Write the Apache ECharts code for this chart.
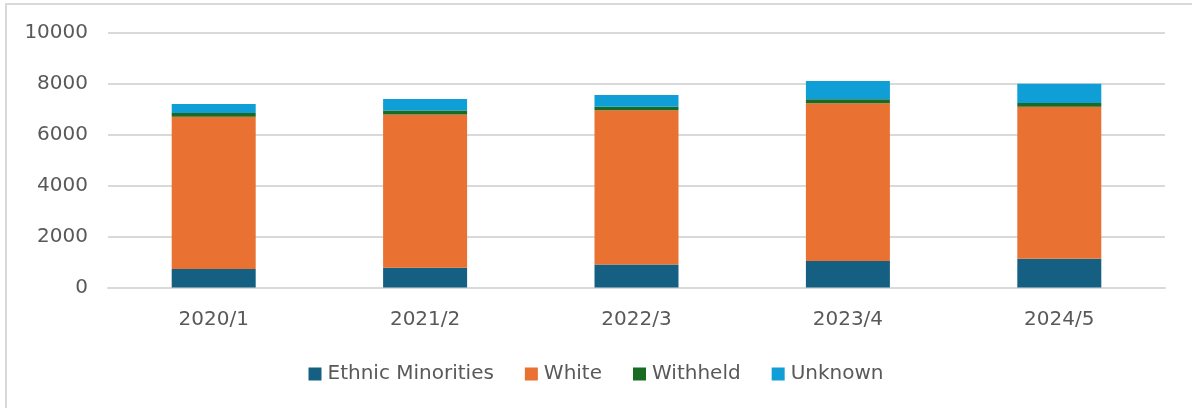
<!DOCTYPE html>
<html>
<head>
<meta charset="utf-8">
<script src="https://cdn.jsdelivr.net/npm/echarts@6/dist/echarts.min.js"></script>
<style>
  html,body{margin:0;padding:0;background:#fff;}
  #chart{width:1192px;height:408px;}
</style>
</head>
<body>
<div id="chart"></div>
<script>
  const years = ['2020/1','2021/2','2022/3','2023/4','2024/5'];
  const ethnicMinorities = [730, 780, 900, 1040, 1130];
  const white = [5980, 6020, 6060, 6200, 5970];
  const withheld = [145, 155, 145, 160, 145];
  const unknown = [355, 450, 460, 710, 760];

  const FONT = '"DejaVu Sans", sans-serif';
  const TXT = '#595959';
  const GRID = '#D9D9D9';

  const chart = echarts.init(document.getElementById('chart'));

  const mk = (name, data, color) => ({
    name, type:'bar', stack:'total', data,
    barWidth: 84,
    itemStyle:{color},
    emphasis:{disabled:true}
  });

  chart.setOption({
    animation:false,
    graphic:[{
      type:'rect', silent:true,
      shape:{x:6, y:4, width:1200, height:420},
      style:{fill:'none', stroke:GRID, lineWidth:2}
    }],
    grid:{left:108, right:27, top:33, bottom:120.5},
    legend:{
      top:359, left:'center',
      itemWidth:13, itemHeight:13, itemGap:31,
      icon:'rect',
      textStyle:{color:TXT, fontSize:20, fontFamily:FONT, padding:[0,0,0,1]},
      data:['Ethnic Minorities','White','Withheld','Unknown']
    },
    xAxis:{
      type:'category', data:years,
      axisTick:{show:false},
      axisLine:{lineStyle:{color:GRID, width:2}},
      axisLabel:{color:TXT, fontSize:20, fontFamily:FONT, margin:22}
    },
    yAxis:{
      type:'value', min:0, max:10000, interval:2000,
      axisLabel:{color:TXT, fontSize:20, fontFamily:FONT, margin:20, formatter:v=>String(v)},
      axisLine:{show:false}, axisTick:{show:false},
      splitLine:{lineStyle:{color:GRID, width:2}}
    },
    series:[
      mk('Ethnic Minorities', ethnicMinorities, '#156082'),
      mk('White', white, '#E97132'),
      mk('Withheld', withheld, '#196B24'),
      mk('Unknown', unknown, '#0F9ED5')
    ]
  });
</script>
</body>
</html>
